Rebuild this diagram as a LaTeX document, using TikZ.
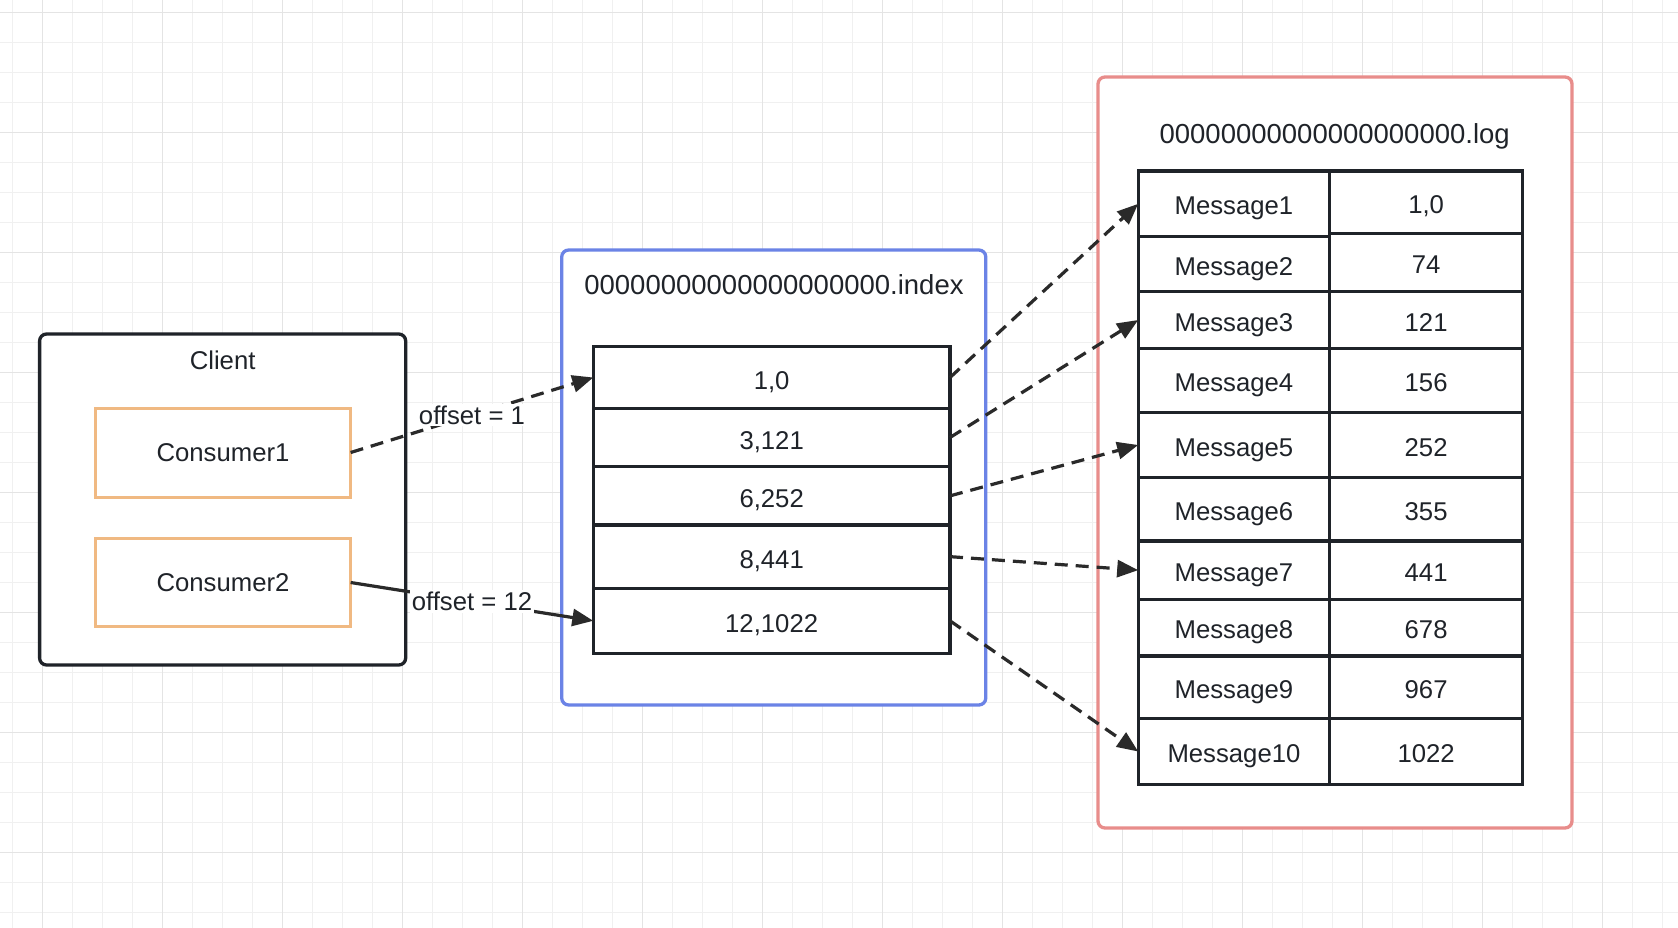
\documentclass[tikz,border=0pt]{standalone}
\usepackage{fontspec}
\setmainfont{Liberation Sans}
\usetikzlibrary{arrows.meta}
\definecolor{ink}{HTML}{1F2329}
\definecolor{arr}{HTML}{2A2A2A}
\definecolor{bluebox}{HTML}{6B83E6}
\definecolor{redbox}{HTML}{E88D8B}
\definecolor{orangebox}{HTML}{F0B982}
\definecolor{gridminor}{HTML}{F0F0F0}
\definecolor{gridmajor}{HTML}{E4E4E4}
\tikzset{
  txt/.style={font=\fontsize{25.7pt}{30pt}\selectfont, text=ink},
  titletxt/.style={font=\fontsize{27.5pt}{32pt}\selectfont, text=ink},
  outerbox/.style={draw=#1, line width=3.3pt, rounded corners=7pt, inner sep=0pt, outer sep=0pt, fill=white},
  consbox/.style={draw=orangebox, line width=3pt, inner sep=0pt, outer sep=0pt, fill=white, txt, text height=18.5pt, text depth=0pt},
  cellbox/.style={draw=ink, line width=3.3pt, inner sep=0pt, outer sep=0pt, txt, text height=22pt, text depth=0pt},
  rowbox/.style={cellbox, text height=23.5pt},
  conn/.style={draw=arr, line width=3.2pt, -{Triangle[length=21pt,width=17pt]}},
  dashconn/.style={conn, dash pattern=on 13pt off 8pt},
  lbl/.style={fill=white, inner sep=2pt, txt}
}
\begin{document}
\begin{tikzpicture}[x=1pt,y=-1pt]
\useasboundingbox (0,0) rectangle (1678,928);
\fill[white] (0,0) rectangle (1678,928);
% grid
\foreach \i in {0,...,55} {\draw[gridminor, line width=1.2pt] ({12.7+30*\i},0) -- ({12.7+30*\i},928);}
\foreach \i in {0,...,30} {\draw[gridminor, line width=1.2pt] (0,{12.7+30*\i}) -- (1678,{12.7+30*\i});}
\foreach \i in {0,...,13} {\draw[gridmajor, line width=1.4pt] ({42.7+120*\i},0) -- ({42.7+120*\i},928);}
\foreach \i in {0,...,7} {\draw[gridmajor, line width=1.4pt] (0,{12.7+120*\i}) -- (1678,{12.7+120*\i});}

% Client
\node[outerbox=ink, minimum width=366.1pt, minimum height=331pt] (client) at (222.65,499.5) {};
\node[txt] (clienttitle) at (222.6,360) {Client};
\node[consbox, minimum width=255.3pt, minimum height=89pt] (c1) at (223,452.5) {Consumer1};
\node[consbox, minimum width=255.3pt, minimum height=88.5pt] (c2) at (223,582.5) {Consumer2};

% Index
\node[outerbox=bluebox, minimum width=424.1pt, minimum height=455pt] (index) at (773.75,477.5) {};
\node[titletxt] (indextitle) at (774,285) {00000000000000000000.index};
\node[rowbox, minimum width=356.7pt, minimum height=61.6pt] (r1) at (771.65,377.5) {1,0};
\node[rowbox, minimum width=356.7pt, minimum height=58.4pt] (r2) at (771.65,437.5) {3,121};
\node[rowbox, minimum width=356.7pt, minimum height=58.3pt] (r3) at (771.65,495.85) {6,252};
\node[rowbox, minimum width=356.7pt, minimum height=63.3pt] (r4) at (771.65,556.65) {8,441};
\node[rowbox, minimum width=356.7pt, minimum height=65pt] (r5) at (771.65,620.8) {12,1022};

% Log
\node[outerbox=redbox, minimum width=474pt, minimum height=751pt] (log) at (1335,452.5) {};
\node[titletxt] (logtitle) at (1334.7,136.5) {00000000000000000000.log};
\node[cellbox, minimum width=191.5pt, minimum height=65.7pt] (m1) at (1233.95,203.85) {Message1};
\node[cellbox, minimum width=192.8pt, minimum height=62.3pt] (v1) at (1426.1,202.15) {1,0};
\node[cellbox, minimum width=191.5pt, minimum height=55pt] (m2) at (1233.95,264.2) {Message2};
\node[cellbox, minimum width=192.8pt, minimum height=58.4pt] (v2) at (1426.1,262.5) {74};
\node[cellbox, minimum width=191.5pt, minimum height=56.6pt] (m3) at (1233.95,320) {Message3};
\node[cellbox, minimum width=192.8pt, minimum height=56.6pt] (v3) at (1426.1,320) {121};
\node[cellbox, minimum width=191.5pt, minimum height=64pt] (m4) at (1233.95,380.3) {Message4};
\node[cellbox, minimum width=192.8pt, minimum height=64pt] (v4) at (1426.1,380.3) {156};
\node[cellbox, minimum width=191.5pt, minimum height=65.4pt] (m5) at (1233.95,445) {Message5};
\node[cellbox, minimum width=192.8pt, minimum height=65.4pt] (v5) at (1426.1,445) {252};
\node[cellbox, minimum width=191.5pt, minimum height=63.3pt] (m6) at (1233.95,509.35) {Message6};
\node[cellbox, minimum width=192.8pt, minimum height=63.3pt] (v6) at (1426.1,509.35) {355};
\node[cellbox, minimum width=191.5pt, minimum height=58.3pt] (m7) at (1233.95,570.15) {Message7};
\node[cellbox, minimum width=192.8pt, minimum height=58.3pt] (v7) at (1426.1,570.15) {441};
\node[cellbox, minimum width=191.5pt, minimum height=56.7pt] (m8) at (1233.95,627.65) {Message8};
\node[cellbox, minimum width=192.8pt, minimum height=56.7pt] (v8) at (1426.1,627.65) {678};
\node[cellbox, minimum width=191.5pt, minimum height=62.7pt] (m9) at (1233.95,687.35) {Message9};
\node[cellbox, minimum width=192.8pt, minimum height=62.7pt] (v9) at (1426.1,687.35) {967};
\node[cellbox, minimum width=191.5pt, minimum height=65.6pt] (m10) at (1233.95,751.5) {Message10};
\node[cellbox, minimum width=192.8pt, minimum height=65.6pt] (v10) at (1426.1,751.5) {1022};

% connectors
\draw[dashconn] (c1.east) -- node[lbl] (l1) {offset = 1} (r1.west);
\draw[conn] (c2.east) -- node[lbl] (l2) {offset = 12} (r5.west);
\draw[dashconn] (r1.east) -- (m1.west);
\draw[dashconn] (r2.east) -- (m3.west);
\draw[dashconn] (r3.east) -- (m5.west);
\draw[dashconn] (r4.east) -- (m7.west);
\draw[dashconn] (r5.east) -- (m10.west);
\end{tikzpicture}
\end{document}
